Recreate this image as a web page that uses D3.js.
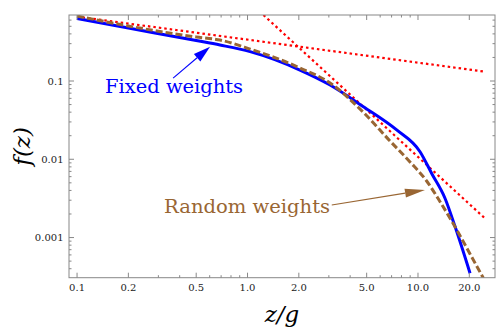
<!DOCTYPE html>
<html><head><meta charset="utf-8">
<script src="https://cdn.jsdelivr.net/npm/d3@7"></script>
<style>html,body{margin:0;padding:0;background:#fff}svg{display:block}
svg text{font-family:"DejaVu Serif",serif;}</style>
</head><body>
<script>
// ---- data ----
const fixedX = [0.1, 0.2, 0.5, 0.69, 1.035, 2.03, 3.05, 4.78, 7.5, 10.28, 12.08, 14.4, 16.5, 20.2];
const fixedY = [0.628, 0.475, 0.329, 0.288, 0.237, 0.138, 0.0889, 0.047, 0.0237, 0.0125, 0.00649, 0.00318, 0.00138, 0.00035];
const randomX = [0.1, 0.2, 0.5, 0.69, 1.035, 2.03, 3.05, 4.76, 6.85, 8.98, 11.24, 13.5, 16.9, 20.2, 24.2];
const randomY = [0.676, 0.504, 0.365, 0.334, 0.256, 0.147, 0.0943, 0.0402, 0.01714, 0.00925, 0.00528, 0.00285, 0.00125, 0.000618, 0.000302];
const asymSmallX = [0.1, 24.7];
const asymSmallY = [0.664, 0.1316];
const asymLargeX = [1.24, 24.7];
const asymLargeY = [0.697, 0.00176];
const xTickMajor = [0.1, 0.2, 0.5, 1, 2, 5, 10, 20];
const xTickLabels = ["0.1", "0.2", "0.5", "1.0", "2.0", "5.0", "10.0", "20.0"];
const xTickMinor = [0.3, 0.4, 0.6, 0.7, 0.8, 0.9, 3, 4, 6, 7, 8, 9];
const yTickMajor = [0.1, 0.01, 0.001];
const yTickLabels = ["0.1", "0.01", "0.001"];
const yTickMinor = [0.0004,0.0005,0.0006,0.0007,0.0008,0.0009,0.002,0.003,0.004,0.005,0.006,0.007,0.008,0.009,0.02,0.03,0.04,0.05,0.06,0.07,0.08,0.09,0.2,0.3,0.4,0.5,0.6];
// annotations (data coords)
const fixedLabel = {text: "Fixed weights", x: 0.146, y: 0.0697, tailX: 0.366, tailY: 0.109, tipX: 0.603, tipY: 0.274};
const randomLabel = {text: "Random weights", x: 0.324, y: 0.00208, tailX: 3.12, tailY: 0.0026, tipX: 10.99, tipY: 0.00406};

const W = 499, H = 331;
const L = 69, R = 495, T = 15, B = 277.7;
const x = d3.scaleLog().domain([0.0897, 28.3]).range([L, R]);
const y = d3.scaleLog().domain([0.000307, 0.697]).range([B, T]);

const svg = d3.select("body").append("svg").attr("width", W).attr("height", H);
svg.append("defs").append("clipPath").attr("id", "clip")
  .append("rect").attr("x", L).attr("y", T).attr("width", R - L).attr("height", B - T);

const frameCol = "#888";

// curves
const g = svg.append("g").attr("clip-path", "url(#clip)");
const line = d3.line().x(d => x(d[0])).y(d => y(d[1])).curve(d3.curveMonotoneX);
const lin = d3.line().x(d => x(d[0])).y(d => y(d[1]));

g.append("path").datum(asymSmallX.map((v, i) => [v, asymSmallY[i]])).attr("d", lin)
  .attr("fill", "none").attr("stroke", "#ff0000").attr("stroke-width", 2.2).attr("stroke-dasharray", "2.5,3");
g.append("path").datum(asymLargeX.map((v, i) => [v, asymLargeY[i]])).attr("d", lin)
  .attr("fill", "none").attr("stroke", "#ff0000").attr("stroke-width", 2.2).attr("stroke-dasharray", "2.5,3");
g.append("path").datum(fixedX.map((v, i) => [v, fixedY[i]])).attr("d", line)
  .attr("fill", "none").attr("stroke", "#0000ff").attr("stroke-width", 3);
g.append("path").datum(randomX.map((v, i) => [v, randomY[i]])).attr("d", line)
  .attr("fill", "none").attr("stroke", "#996633").attr("stroke-width", 3).attr("stroke-dasharray", "7,3");

// frame
svg.append("rect").attr("x", L).attr("y", T).attr("width", R - L).attr("height", B - T)
  .attr("fill", "none").attr("stroke", frameCol).attr("stroke-width", 1);

const ticks = svg.append("g").attr("stroke", frameCol).attr("stroke-width", 1);
xTickMajor.forEach(v => {
  ticks.append("line").attr("x1", x(v)).attr("x2", x(v)).attr("y1", B).attr("y2", B - 5);
  ticks.append("line").attr("x1", x(v)).attr("x2", x(v)).attr("y1", T).attr("y2", T + 5);
});
xTickMinor.forEach(v => {
  ticks.append("line").attr("x1", x(v)).attr("x2", x(v)).attr("y1", B).attr("y2", B - 2.5);
  ticks.append("line").attr("x1", x(v)).attr("x2", x(v)).attr("y1", T).attr("y2", T + 2.5);
});
yTickMajor.forEach(v => {
  ticks.append("line").attr("x1", L).attr("x2", L + 5).attr("y1", y(v)).attr("y2", y(v));
  ticks.append("line").attr("x1", R).attr("x2", R - 5).attr("y1", y(v)).attr("y2", y(v));
});
yTickMinor.forEach(v => {
  ticks.append("line").attr("x1", L).attr("x2", L + 2.5).attr("y1", y(v)).attr("y2", y(v));
  ticks.append("line").attr("x1", R).attr("x2", R - 2.5).attr("y1", y(v)).attr("y2", y(v));
});

// tick labels
xTickMajor.forEach((v, i) => {
  svg.append("text").attr("x", x(v)).attr("y", B + 13.2).attr("text-anchor", "middle")
    .attr("font-size", 10).attr("fill", "#222").text(xTickLabels[i]);
});
yTickMajor.forEach((v, i) => {
  svg.append("text").attr("x", L - 5.5).attr("y", y(v) + 3.6).attr("text-anchor", "end")
    .attr("font-size", 10).attr("fill", "#222").text(yTickLabels[i]);
});

// axis labels
svg.append("text").attr("transform", `translate(30,${(T + B) / 2}) rotate(-90)`)
  .attr("text-anchor", "middle").attr("font-size", 23)
  .attr("font-style", "italic").attr("fill", "#000").text("f(z)");
svg.append("text").attr("x", (L + R) / 2).attr("y", 322).attr("text-anchor", "middle")
  .attr("font-size", 23).attr("font-style", "italic").attr("fill", "#000").text("z/g");

// annotations
function arrow(a, color, headLen, headHalf) {
  const x0 = x(a.tailX), y0 = y(a.tailY), x1 = x(a.tipX), y1 = y(a.tipY);
  const dx = x1 - x0, dy = y1 - y0, len = Math.hypot(dx, dy);
  const ux = dx / len, uy = dy / len;
  const bx = x1 - ux * headLen, by = y1 - uy * headLen;
  svg.append("line").attr("x1", x0).attr("y1", y0).attr("x2", bx).attr("y2", by)
    .attr("stroke", color).attr("stroke-width", 1.1);
  svg.append("path").attr("d", `M${x1},${y1}L${bx - uy * headHalf},${by + ux * headHalf}L${bx + uy * headHalf},${by - ux * headHalf}Z`)
    .attr("fill", color);
}
svg.append("text").attr("x", x(fixedLabel.x)).attr("y", y(fixedLabel.y))
  .attr("font-size", 19).attr("fill", "#0000ff").attr("textLength", 138).attr("lengthAdjust", "spacingAndGlyphs").text(fixedLabel.text);
arrow(fixedLabel, "#0000ff", 17, 5);
svg.append("text").attr("x", x(randomLabel.x)).attr("y", y(randomLabel.y))
  .attr("font-size", 19).attr("fill", "#996633").attr("textLength", 166).attr("lengthAdjust", "spacingAndGlyphs").text(randomLabel.text);
arrow(randomLabel, "#996633", 20, 4.5);
</script>
</body></html>
